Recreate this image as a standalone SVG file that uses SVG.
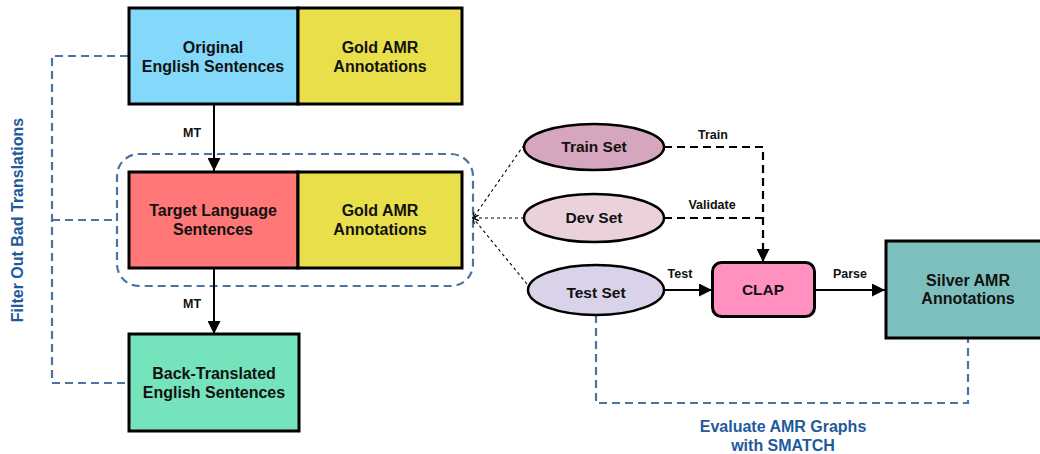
<svg xmlns="http://www.w3.org/2000/svg" width="1040" height="454" viewBox="0 0 1040 454">
<style>
.box{stroke:#000;stroke-width:3}
.ell{stroke:#000;stroke-width:2.5}
.t{font-family:"Liberation Sans",Arial,sans-serif;font-weight:bold;font-size:16px;fill:#111;text-anchor:middle}
.e{font-size:15.5px}
.s{font-family:"Liberation Sans",Arial,sans-serif;font-weight:bold;font-size:12.5px;fill:#111;text-anchor:middle}
.b{font-family:"Liberation Sans",Arial,sans-serif;font-weight:bold;font-size:16px;fill:#1F5A9B;text-anchor:middle}
.bd{fill:none;stroke:#4C74A3;stroke-width:2.2;stroke-dasharray:8,5}
.sol{fill:none;stroke:#000;stroke-width:2}
.kd{fill:none;stroke:#000;stroke-width:2.2;stroke-dasharray:8,5}
.dot{fill:none;stroke:#000;stroke-width:1.1;stroke-dasharray:3,3}
</style>
<defs>
<marker id="arr" viewBox="0 0 10 10" refX="10" refY="5" markerWidth="13" markerHeight="13" markerUnits="userSpaceOnUse" orient="auto"><path d="M0,0 L10,5 L0,10 z" fill="#000"/></marker>
<marker id="open" viewBox="0 0 10 10" refX="9" refY="5" markerWidth="7" markerHeight="7" markerUnits="userSpaceOnUse" orient="auto"><path d="M1,1 L9,5 L1,9" fill="none" stroke="#000" stroke-width="1.5"/></marker>
</defs>

<g id="connectors">
  <!-- Filter bracket -->
  <path class="bd" d="M128,56 H52 V383 H128"/>
  <path class="bd" d="M52,220 H117"/>
  <!-- group container -->
  <rect class="bd" x="117" y="154" width="356" height="132" rx="22" ry="22"/>
  <!-- MT arrows -->
  <line class="sol" x1="214" y1="104" x2="214" y2="171" marker-end="url(#arr)"/>
  <line class="sol" x1="214" y1="268" x2="214" y2="334" marker-end="url(#arr)"/>
  <!-- split lines -->
  <line class="dot" x1="524" y1="145" x2="473" y2="218" marker-end="url(#open)"/>
  <line class="dot" x1="524" y1="218" x2="473" y2="218" marker-end="url(#open)"/>
  <line class="dot" x1="527" y1="284" x2="473" y2="218" marker-end="url(#open)"/>
  <!-- Train / Validate -->
  <path class="kd" d="M664,147 H763 V262" marker-end="url(#arr)"/>
  <path class="kd" d="M664,218 H763"/>
  <!-- Test -->
  <line class="sol" x1="664" y1="290" x2="712" y2="290" marker-end="url(#arr)"/>
  <!-- Parse -->
  <line class="sol" x1="815" y1="290" x2="885" y2="290" marker-end="url(#arr)"/>
  <!-- Evaluate -->
  <path class="bd" d="M596,315 V403 H968 V339"/>
  <text class="s" x="192" y="137">MT</text>
  <text class="s" x="192" y="308">MT</text>
  <text class="s" x="713" y="139">Train</text>
  <text class="s" x="712" y="209">Validate</text>
  <text class="s" x="680" y="278">Test</text>
  <text class="s" x="850" y="278">Parse</text>
  <text class="b" x="783" y="432">Evaluate AMR Graphs</text>
  <text class="b" x="783" y="451">with SMATCH</text>
  <text class="b" transform="translate(23,220) rotate(-90)">Filter Out Bad Translations</text>
</g>

<g id="original">
  <rect class="box" x="129" y="8" width="169" height="96" fill="#84D8FA"/>
  <text class="t" x="213" y="53">Original</text>
  <text class="t" x="213" y="72">English Sentences</text>
</g>
<g id="gold1">
  <rect class="box" x="298" y="8" width="164" height="96" fill="#E8DF4B"/>
  <text class="t" x="380" y="53">Gold AMR</text>
  <text class="t" x="380" y="72">Annotations</text>
</g>
<g id="target">
  <rect class="box" x="129" y="172" width="169" height="96" fill="#FF7777"/>
  <text class="t" x="213" y="216">Target Language</text>
  <text class="t" x="213" y="235">Sentences</text>
</g>
<g id="gold2">
  <rect class="box" x="298" y="172" width="164" height="96" fill="#E8DF4B"/>
  <text class="t" x="380" y="216">Gold AMR</text>
  <text class="t" x="380" y="235">Annotations</text>
</g>
<g id="backtranslated">
  <rect class="box" x="129" y="334" width="170" height="97" fill="#75E3BC"/>
  <text class="t" x="214" y="379">Back-Translated</text>
  <text class="t" x="214" y="398">English Sentences</text>
</g>
<g id="train">
  <ellipse class="ell" cx="594" cy="147" rx="70" ry="23" fill="#D5A6BD"/>
  <text class="t e" x="594" y="152">Train Set</text>
</g>
<g id="dev">
  <ellipse class="ell" cx="594" cy="218" rx="70" ry="24" fill="#EAD1DC"/>
  <text class="t e" x="594" y="223">Dev Set</text>
</g>
<g id="test">
  <ellipse class="ell" cx="596" cy="290" rx="68" ry="25" fill="#D9D2E9"/>
  <text class="t e" x="596" y="298">Test Set</text>
</g>
<g id="clap">
  <rect class="box" x="712.5" y="262.5" width="102" height="54" rx="9" ry="9" fill="#FF90C0"/>
  <text class="t e" x="763" y="295">CLAP</text>
</g>
<g id="silver">
  <rect class="box" x="886" y="241" width="156" height="97" fill="#7DBFBD"/>
  <text class="t" x="968" y="286">Silver AMR</text>
  <text class="t" x="968" y="304">Annotations</text>
</g>
</svg>
